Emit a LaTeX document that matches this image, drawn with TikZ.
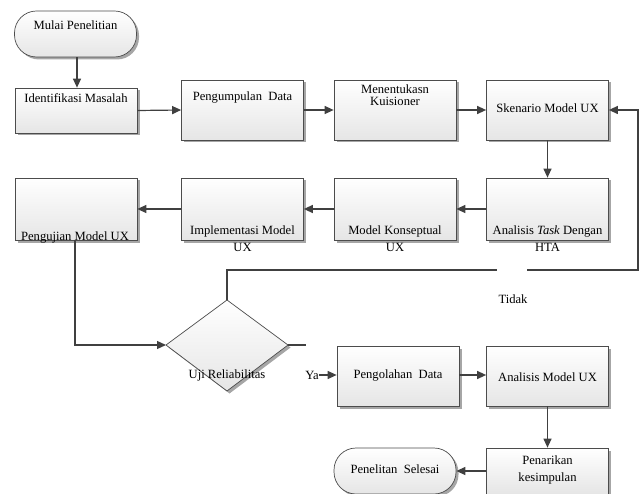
\documentclass[tikz,border=0pt]{standalone}
\usepackage{fontspec}
\setmainfont{Liberation Serif}
\usetikzlibrary{arrows.meta,shadows,calc}
\begin{document}
\begin{tikzpicture}[x=1pt,y=-1pt,
  font=\fontsize{12.6}{14}\selectfont,
  box/.style={draw=black!70, line width=0.7pt, top color=white, bottom color=black!10,
    drop shadow={shadow xshift=2.5pt, shadow yshift=-2.5pt, fill=black!35, opacity=1},
    minimum width=122pt, minimum height=60pt, inner sep=0pt},
  term/.style={box, rounded corners=22pt, minimum height=46pt},
  dia/.style={draw=black!70, line width=0.7pt, top color=white, bottom color=black!10,
    drop shadow={shadow xshift=2.5pt, shadow yshift=-2.5pt, fill=black!35, opacity=1}},
  txt/.style={inner sep=0pt, align=center},
  conn/.style={draw=black!75, line width=1.2pt},
  arr/.style={conn, -{Triangle[length=9pt,width=8pt]}}
]
\useasboundingbox (0,0) rectangle (639,494);
% nodes
\node[term] (start) at (75.5,34) {};
\node[box, minimum height=45pt] (ident) at (76,110.5) {};
\node[box] (kumpul) at (242.5,110) {};
\node[box] (tentu) at (395,110) {};
\node[box] (sken) at (547.5,110) {};
\node[box, minimum height=62pt] (uji) at (76,209) {};
\node[box, minimum height=62pt] (impl) at (242.5,209) {};
\node[box, minimum height=62pt] (konsep) at (395,209) {};
\node[box, minimum height=62pt] (task) at (547.5,209) {};
\path[dia] (227,300) -- (288,345) -- (227,391) -- (166,345) -- cycle;
\coordinate (dN) at (227,300);
\coordinate (dE) at (288,345);
\coordinate (dW) at (166,345);
\node[box] (olah) at (398,376) {};
\node[box] (anmod) at (547.5,376) {};
\node[box, minimum height=46pt] (tarik) at (547.5,471) {};
\node[term] (selesai) at (395,471) {};
% texts
\node[txt] (t1) at (75.5,25) {Mulai Penelitian};
\node[txt] (t2) at (76,98) {Identifikasi Masalah};
\node[txt] (t3) at (242.5,97) {Pengumpulan\ \ Data};
\node[txt, font=\fontsize{12.6}{12.6}\selectfont] (t4) at (395,95) {Menentukasn\\Kuisioner};
\node[txt] (t5) at (547.5,108) {Skenario Model UX};
\node[txt] (t6) at (75,237) {Pengujian Model UX};
\node[txt, font=\fontsize{12.6}{17}\selectfont] (t7) at (242.5,239) {Implementasi Model\\UX};
\node[txt, font=\fontsize{12.6}{17}\selectfont] (t8) at (395,239) {Model Konseptual\\UX};
\node[txt, font=\fontsize{12.6}{17}\selectfont] (t9) at (547.5,239) {Analisis \textit{Task} Dengan\\HTA};
\node[txt] (tidak) at (513,299) {Tidak};
\node[txt] (t10) at (227,375) {Uji Reliabilitas};
\node[txt] (ya) at (312,375) {Ya};
\node[txt] (t11) at (398,375) {Pengolahan\ \ Data};
\node[txt] (t12) at (547.5,377) {Analisis Model UX};
\node[txt, font=\fontsize{12.6}{17}\selectfont] (t13) at (547.5,470) {Penarikan\\kesimpulan};
\node[txt] (t14) at (395,469) {Penelitan\ \ Selesai};
% connectors
\draw[arr] (start.south -| 77,0) -- (ident.north -| 77,0);
\draw[arr] (ident.east) -- (kumpul.west);
\draw[arr] (kumpul.east) -- (tentu.west);
\draw[arr] (tentu.east) -- (sken.west);
\draw[arr] (sken.south) -- (task.north);
\draw[arr] (task.west) -- (konsep.east);
\draw[arr] (konsep.west) -- (impl.east);
\draw[arr] (impl.west) -- (uji.east);
\draw[arr] (uji.south -| 75,0) |- (dW);
\coordinate (gl) at (497,270);
\coordinate (gr) at (527,270);
\coordinate (rc) at (638,270);
\draw[conn] (dN) |- (gl);
\draw[arr] (gr) -- (rc) |- (sken.east);
\coordinate (ye) at (306,345);
\draw[conn] (dE) -- (ye);
\draw[arr] (ya.east) -- (olah.west |- ya.east);
\draw[arr] (olah.east |- 0,375) -- (anmod.west |- 0,375);
\draw[arr] (anmod.south) -- (tarik.north);
\draw[arr] (tarik.west) -- (selesai.east);
\end{tikzpicture}
\end{document}
